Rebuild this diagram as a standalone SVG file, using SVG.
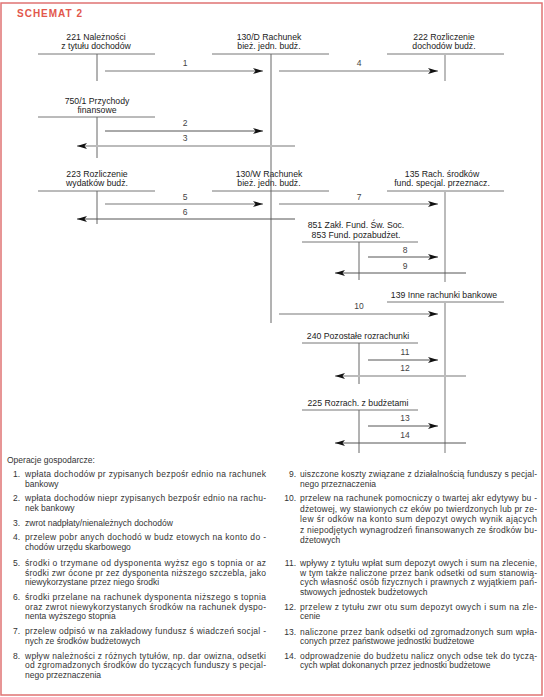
<svg xmlns="http://www.w3.org/2000/svg" width="544" height="697" viewBox="0 0 544 697">
<defs>
<marker id="ah" markerUnits="userSpaceOnUse" markerWidth="11" markerHeight="6" refX="10" refY="3" orient="auto">
<path d="M0,0 L10,3 L0,6 L2.5,3 z" fill="#111"/>
</marker>
<style>
text{font-family:"Liberation Sans","Noto Sans",Arial,sans-serif;fill:#222}
.lbl{font-size:8.7px;text-anchor:middle}
.num{font-size:8.5px;text-anchor:middle;fill:#444}
.hl{stroke:#777;stroke-width:1}
.vd{stroke:#666;stroke-width:1}
.vl{stroke:#bbb;stroke-width:2}
.al{stroke:#bbb;stroke-width:2;fill:none;marker-end:url(#ah)}
.ad{stroke:#555;stroke-width:1;fill:none;marker-end:url(#ah)}
.body{font-size:8.5px;fill:#333}
.no{font-size:8.5px;fill:#333;text-anchor:end}
</style>
</defs>
<rect x="1" y="3" width="541" height="692" fill="#fff" stroke="#e07373" stroke-width="1.5"/>
<text x="17" y="17" style="font-size:10px;font-weight:bold;letter-spacing:1px;fill:#e2574c">SCHEMAT 2</text>

<g id="n221">
<text class="lbl" x="96" y="40">221 Należności</text>
<text class="lbl" x="96" y="49">z tytułu dochodów</text>
<line class="hl" x1="38" y1="54" x2="155" y2="54"/>
<line class="vd" x1="97" y1="54" x2="97" y2="81"/>
</g>
<g id="n130">
<text class="lbl" x="269" y="40">130/D Rachunek</text>
<text class="lbl" x="269" y="49">bież. jedn. budż.</text>
<line class="hl" x1="212" y1="54" x2="329" y2="54"/>
<text class="lbl" x="269" y="177">130/W Rachunek</text>
<text class="lbl" x="269" y="186">bież. jedn. budż.</text>
<line class="hl" x1="212" y1="191" x2="329" y2="191"/>
<line class="vd" x1="271" y1="54" x2="271" y2="323"/>
</g>
<g id="n222">
<text class="lbl" x="444" y="40">222 Rozliczenie</text>
<text class="lbl" x="444" y="49">dochodów budż.</text>
<line class="hl" x1="387" y1="54" x2="504" y2="54"/>
<line class="vl" x1="445" y1="55" x2="445" y2="81"/>
</g>
<g id="n750">
<text class="lbl" x="97" y="104">750/1 Przychody</text>
<text class="lbl" x="97" y="113">finansowe</text>
<line class="hl" x1="38" y1="117" x2="155" y2="117"/>
<line class="vd" x1="97" y1="117" x2="97" y2="158"/>
</g>
<g id="n223">
<text class="lbl" x="97" y="177">223 Rozliczenie</text>
<text class="lbl" x="97" y="186">wydatków budż.</text>
<line class="hl" x1="38" y1="191" x2="155" y2="191"/>
<line class="vd" x1="97" y1="191" x2="97" y2="224"/>
</g>
<g id="n135">
<text class="lbl" x="442" y="177">135 Rach. środków</text>
<text class="lbl" x="442" y="186">fund. specjal. przeznacz.</text>
<line class="hl" x1="387" y1="191" x2="504" y2="191"/>
<line class="vl" x1="445" y1="192" x2="445" y2="282"/>
</g>
<g id="n851">
<text class="lbl" x="356" y="228">851 Zakł. Fund. Św. Soc.</text>
<text class="lbl" x="356" y="238">853 Fund. pozabudżet.</text>
<line class="hl" x1="302" y1="242" x2="418" y2="242"/>
<line class="vd" x1="359" y1="242" x2="359" y2="280"/>
</g>
<g id="n139">
<text class="lbl" x="444" y="298">139 Inne rachunki bankowe</text>
<line class="hl" x1="387" y1="302" x2="504" y2="302"/>
<line class="vl" x1="445" y1="303" x2="445" y2="453"/>
</g>
<g id="n240">
<text class="lbl" x="358" y="339">240 Pozostałe rozrachunki</text>
<line class="hl" x1="302" y1="343" x2="418" y2="343"/>
<line class="vd" x1="359" y1="343" x2="359" y2="384"/>
</g>
<g id="n225">
<text class="lbl" x="358" y="406">225 Rozrach. z budżetami</text>
<line class="hl" x1="302" y1="410" x2="418" y2="410"/>
<line class="vd" x1="359" y1="410" x2="359" y2="453"/>
</g>

<g id="connectors">
<line class="al" x1="105" y1="71" x2="263" y2="71"/>
<text class="num" x="185" y="66">1</text>
<line class="al" x1="279" y1="71" x2="438" y2="71"/>
<text class="num" x="359" y="66">4</text>
<line class="ad" x1="105" y1="131" x2="263" y2="131"/>
<text class="num" x="185" y="126">2</text>
<line class="al" x1="295" y1="146" x2="77" y2="146"/>
<text class="num" x="185" y="141">3</text>
<line class="al" x1="105" y1="204" x2="263" y2="204"/>
<text class="num" x="185" y="200">5</text>
<line class="ad" x1="295" y1="219" x2="77" y2="219"/>
<text class="num" x="185" y="215">6</text>
<line class="al" x1="279" y1="204" x2="438" y2="204"/>
<text class="num" x="359" y="200">7</text>
<line class="ad" x1="368" y1="257" x2="438" y2="257"/>
<text class="num" x="405" y="253">8</text>
<line class="ad" x1="466" y1="273" x2="335" y2="273"/>
<text class="num" x="405" y="269">9</text>
<line class="al" x1="279" y1="314" x2="438" y2="314"/>
<text class="num" x="359" y="309">10</text>
<line class="ad" x1="368" y1="360" x2="438" y2="360"/>
<text class="num" x="405" y="355">11</text>
<line class="al" x1="466" y1="376" x2="335" y2="376"/>
<text class="num" x="405" y="371">12</text>
<line class="ad" x1="368" y1="426" x2="438" y2="426"/>
<text class="num" x="405" y="421">13</text>
<line class="ad" x1="466" y1="443" x2="335" y2="443"/>
<text class="num" x="405" y="438">14</text>
</g>

<g id="legend">
<text class="body" x="7" y="463">Operacje gospodarcze:</text>
<text class="no" x="20" y="477">1.</text>
<text class="body" x="25" y="477" textLength="241" lengthAdjust="spacing">wpłata dochodów pr zypisanych bezpośr ednio na rachunek</text>
<text class="body" x="25" y="487">bankowy</text>
<text class="no" x="20" y="501">2.</text>
<text class="body" x="25" y="501" textLength="241" lengthAdjust="spacing">wpłata dochodów niepr zypisanych bezpośr ednio na rachu-</text>
<text class="body" x="25" y="511">nek bankowy</text>
<text class="no" x="20" y="526">3.</text>
<text class="body" x="25" y="526">zwrot nadpłaty/nienależnych dochodów</text>
<text class="no" x="20" y="540">4.</text>
<text class="body" x="25" y="540" textLength="241" lengthAdjust="spacing">przelew pobr anych dochodó w budz etowych na konto do -</text>
<text class="body" x="25" y="550">chodów urzędu skarbowego</text>
<text class="no" x="20" y="566">5.</text>
<text class="body" x="25" y="566" textLength="241" lengthAdjust="spacing">środki o trzymane od dysponenta wyższ ego s topnia or az</text>
<text class="body" x="25" y="576" textLength="241" lengthAdjust="spacing">środki zwr ócone pr zez dysponenta niższego szczebla, jako</text>
<text class="body" x="25" y="585">niewykorzystane przez niego środki</text>
<text class="no" x="20" y="600">6.</text>
<text class="body" x="25" y="600" textLength="241" lengthAdjust="spacing">środki przelane na rachunek dysponenta niższego s topnia</text>
<text class="body" x="25" y="610" textLength="241" lengthAdjust="spacing">oraz zwrot niewykorzystanych środków na rachunek dyspo-</text>
<text class="body" x="25" y="619">nenta wyższego stopnia</text>
<text class="no" x="20" y="634">7.</text>
<text class="body" x="25" y="634" textLength="241" lengthAdjust="spacing">przelew odpisó w na zakładowy fundusz ś wiadczeń socjal -</text>
<text class="body" x="25" y="644">nych ze środków budżetowych</text>
<text class="no" x="20" y="659">8.</text>
<text class="body" x="25" y="659" textLength="241" lengthAdjust="spacing">wpływ należności z różnych tytułów, np. dar owizna, odsetki</text>
<text class="body" x="25" y="668" textLength="241" lengthAdjust="spacing">od zgromadzonych środków do tyczących funduszy s pecjal-</text>
<text class="body" x="25" y="678">nego przeznaczenia</text>

<text class="no" x="296" y="477">9.</text>
<text class="body" x="300" y="477" textLength="237" lengthAdjust="spacing">uiszczone koszty związane z działalnością funduszy s pecjal-</text>
<text class="body" x="300" y="487">nego przeznaczenia</text>
<text class="no" x="296" y="501">10.</text>
<text class="body" x="300" y="501" textLength="237" lengthAdjust="spacing">przelew na rachunek pomocniczy o twartej akr edytywy bu -</text>
<text class="body" x="300" y="511.5" textLength="237" lengthAdjust="spacing">dżetowej, wy stawionych cz eków po twierdzonych lub pr ze-</text>
<text class="body" x="300" y="522" textLength="237" lengthAdjust="spacing">lew śr odków na konto sum depozyt owych wynik ających</text>
<text class="body" x="300" y="532.5" textLength="237" lengthAdjust="spacing">z niepodjętych wynagrodzeń finansowanych ze środków bu-</text>
<text class="body" x="300" y="543">dżetowych</text>
<text class="no" x="296" y="566">11.</text>
<text class="body" x="300" y="566" textLength="237" lengthAdjust="spacing">wpływy z tytułu wpłat sum depozyt owych i sum na zlecenie,</text>
<text class="body" x="300" y="576" textLength="237" lengthAdjust="spacing">w tym także naliczone przez bank odsetki od sum stanowią-</text>
<text class="body" x="300" y="585" textLength="237" lengthAdjust="spacing">cych własność osób fizycznych i prawnych z wyjątkiem pań-</text>
<text class="body" x="300" y="595">stwowych jednostek budżetowych</text>
<text class="no" x="296" y="610">12.</text>
<text class="body" x="300" y="610" textLength="237" lengthAdjust="spacing">przelew z tytułu zwr otu sum depozyt owych i sum na zle-</text>
<text class="body" x="300" y="619">cenie</text>
<text class="no" x="296" y="635">13.</text>
<text class="body" x="300" y="635" textLength="237" lengthAdjust="spacing">naliczone przez bank odsetki od zgromadzonych sum wpła-</text>
<text class="body" x="300" y="644">conych przez państwowe jednostki budżetowe</text>
<text class="no" x="296" y="659">14.</text>
<text class="body" x="300" y="659" textLength="237" lengthAdjust="spacing">odprowadzenie do budżetu nalicz onych odse tek do tyczą-</text>
<text class="body" x="300" y="668">cych wpłat dokonanych przez jednostki budżetowe</text>
</g>
</svg>
